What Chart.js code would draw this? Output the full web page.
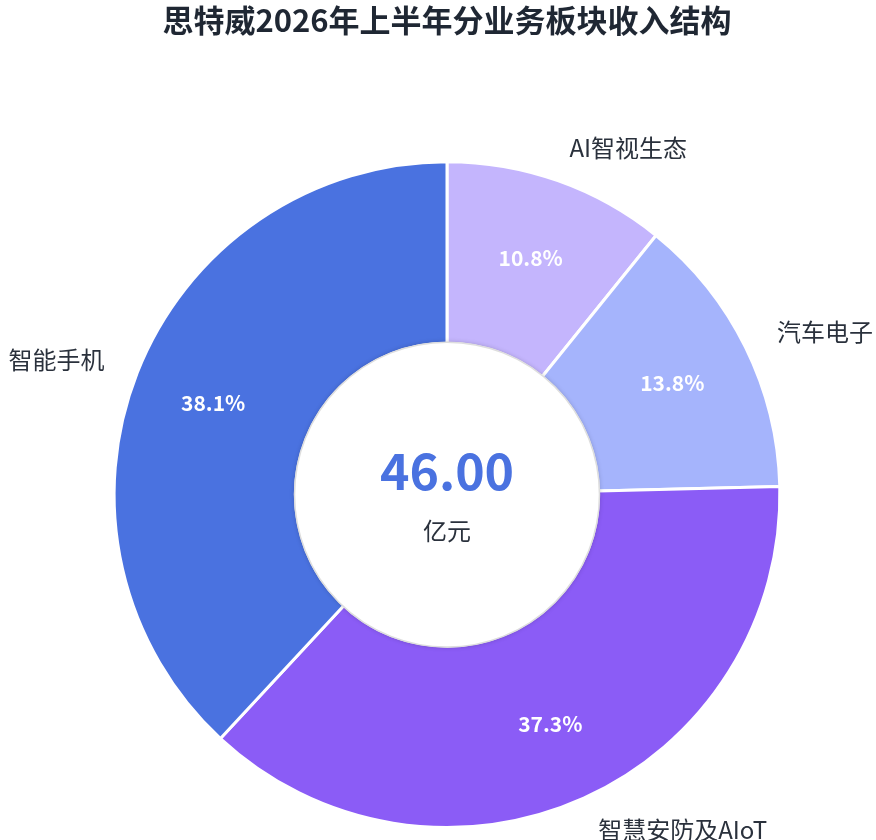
<!DOCTYPE html>
<html>
<head>
<meta charset="utf-8">
<script src="https://cdn.jsdelivr.net/npm/chart.js@4.4.1/dist/chart.umd.min.js"></script>
<style>
html,body{margin:0;padding:0;background:#ffffff;}
#wrap{width:876px;height:840px;position:relative;}
</style>
</head>
<body>
<div id="wrap"><canvas id="c" width="876" height="840"></canvas></div>
<script>
const chartTitle = '思特威2026年上半年分业务板块收入结构';
const categories = ['AI智视生态', '汽车电子', '智慧安防及AIoT', '智能手机'];
const revenue = [4.97, 6.35, 17.16, 17.52]; // 亿元
const sliceColors = ['#C4B5FD', '#A5B4FC', '#8B5CF6', '#4A72E0'];
const centerUnit = '亿元';

const FONT = '"Noto Sans CJK SC", "Noto Sans", sans-serif';
const total = revenue.reduce((a, b) => a + b, 0);

const labelPlugin = {
  id: 'labels',
  afterDatasetsDraw(chart) {
    const ctx = chart.ctx;
    const meta = chart.getDatasetMeta(0);
    if (!meta.data.length) return;
    const first = meta.data[0];
    const cx = first.x, cy = first.y;
    const outerR = first.outerRadius, innerR = first.innerRadius;

    // center circle
    ctx.save();
    ctx.beginPath();
    ctx.arc(cx, cy, innerR + 1, 0, Math.PI * 2);
    ctx.shadowColor = 'rgba(0,0,0,0.22)';
    ctx.shadowBlur = 5;
    ctx.fillStyle = '#ffffff';
    ctx.fill();
    ctx.shadowColor = 'transparent';
    ctx.lineWidth = 1.5;
    ctx.strokeStyle = '#dedede';
    ctx.stroke();
    ctx.restore();

    ctx.save();
    ctx.textAlign = 'center';
    ctx.textBaseline = 'middle';
    ctx.fillStyle = '#4A72E0';
    ctx.font = 'bold 50px ' + FONT;
    ctx.fillText(total.toFixed(2), cx, cy - 24);
    ctx.fillStyle = '#2a313c';
    ctx.font = '24px ' + FONT;
    ctx.fillText(centerUnit, cx, cy + 36);
    ctx.restore();

    meta.data.forEach((arc, i) => {
      const mid = (arc.startAngle + arc.endAngle) / 2;
      const pr = innerR + (outerR - innerR) * 0.55;
      ctx.save();
      ctx.textBaseline = 'middle';
      ctx.textAlign = 'center';
      ctx.fillStyle = '#ffffff';
      ctx.font = 'bold 21px ' + FONT;
      const pct = (revenue[i] / total * 100).toFixed(1) + '%';
      ctx.fillText(pct, cx + pr * Math.cos(mid), cy + pr * Math.sin(mid));

      const lr = outerR + 35;
      const lx = cx + lr * Math.cos(mid);
      const ly = cy + lr * Math.sin(mid);
      ctx.textAlign = Math.cos(mid) >= 0 ? 'left' : 'right';
      ctx.fillStyle = '#2a313c';
      ctx.font = '24px ' + FONT;
      ctx.fillText(categories[i], lx, ly);
      ctx.restore();
    });
  }
};

new Chart(document.getElementById('c'), {
  type: 'doughnut',
  data: {
    labels: categories,
    datasets: [{
      data: revenue,
      backgroundColor: sliceColors,
      borderColor: '#ffffff',
      borderWidth: 3,
      hoverOffset: 0
    }]
  },
  options: {
    responsive: false,
    animation: false,
    cutout: '45.5%',
    layout: { padding: { top: 0, bottom: 11, left: 110, right: 92 } },
    plugins: {
      legend: { display: false },
      tooltip: { enabled: false },
      title: {
        display: true,
        text: chartTitle,
        color: '#1f2733',
        font: { size: 31, weight: 'bold', family: FONT },
        padding: { top: 2, bottom: 121 }
      }
    }
  },
  plugins: [labelPlugin]
});
</script>
</body>
</html>
